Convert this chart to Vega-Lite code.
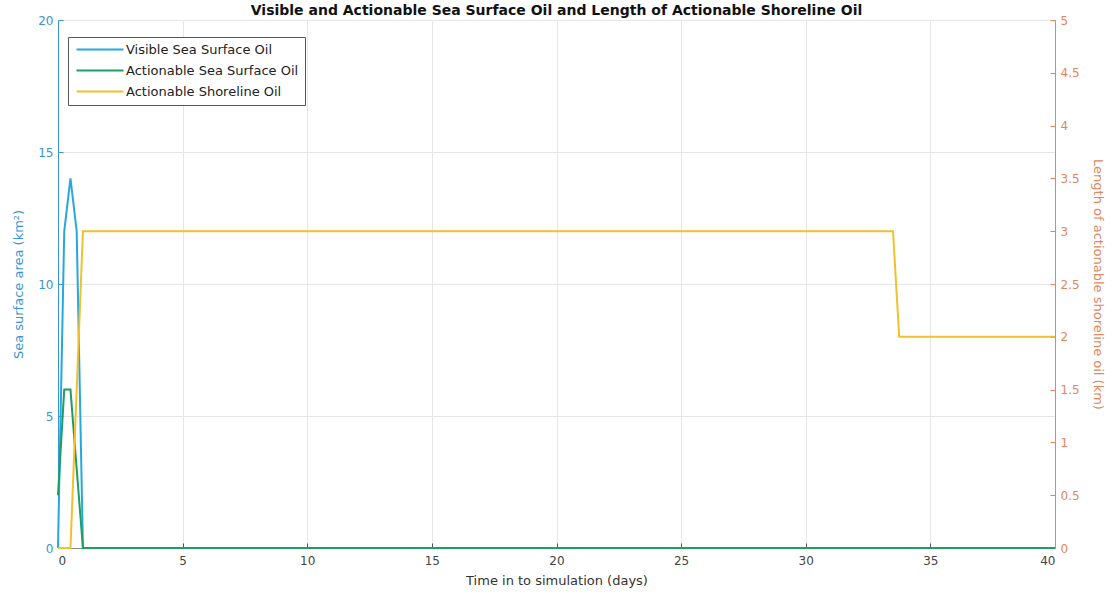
{
  "$schema": "https://vega.github.io/schema/vega-lite/v6.json",
  "autosize": {"type": "none"},
  "padding": {"left": 58, "top": 20, "right": 57, "bottom": 50},
  "width": 997,
  "height": 528,
  "background": "white",
  "config": {
    "font": "DejaVu Sans",
    "view": {"stroke": "#bbbbbb", "strokeWidth": 1},
    "axis": {"labelFont": "DejaVu Sans", "titleFont": "DejaVu Sans", "labelFontSize": 12, "titleFontSize": 13, "titleFontWeight": "normal"}
  },
  "title": {"text": "Visible and Actionable Sea Surface Oil and Length of Actionable Shoreline Oil", "fontSize": 14, "fontWeight": "bold", "color": "#111111", "offset": 5, "dy": 9, "font": "DejaVu Sans"},
  "data": {
    "values": [
      {"t": 0, "series": "Visible Sea Surface Oil", "v": 0},
      {"t": 0.25, "series": "Visible Sea Surface Oil", "v": 12},
      {"t": 0.5, "series": "Visible Sea Surface Oil", "v": 14},
      {"t": 0.75, "series": "Visible Sea Surface Oil", "v": 12},
      {"t": 1, "series": "Visible Sea Surface Oil", "v": 0},
      {"t": 40, "series": "Visible Sea Surface Oil", "v": 0},
      {"t": 0, "series": "Actionable Sea Surface Oil", "v": 2},
      {"t": 0.25, "series": "Actionable Sea Surface Oil", "v": 6},
      {"t": 0.5, "series": "Actionable Sea Surface Oil", "v": 6},
      {"t": 0.75, "series": "Actionable Sea Surface Oil", "v": 3},
      {"t": 1, "series": "Actionable Sea Surface Oil", "v": 0},
      {"t": 40, "series": "Actionable Sea Surface Oil", "v": 0},
      {"t": 0, "series": "Actionable Shoreline Oil", "v": 0},
      {"t": 0.5, "series": "Actionable Shoreline Oil", "v": 0},
      {"t": 1, "series": "Actionable Shoreline Oil", "v": 3},
      {"t": 33.5, "series": "Actionable Shoreline Oil", "v": 3},
      {"t": 33.75, "series": "Actionable Shoreline Oil", "v": 2},
      {"t": 40, "series": "Actionable Shoreline Oil", "v": 2}
    ]
  },
  "layer": [
    {
      "transform": [{"filter": {"field": "series", "oneOf": ["Visible Sea Surface Oil", "Actionable Sea Surface Oil"]}}],
      "mark": {"type": "line", "strokeWidth": 2},
      "encoding": {
        "x": {"field": "t", "type": "quantitative", "scale": {"domain": [0, 40], "nice": false},
          "axis": {"title": "Time in to simulation (days)", "values": [0,5,10,15,20,25,30,35,40], "grid": true, "gridColor": "#e6e6e6", "domainColor": "#888888", "tickColor": "#555555", "tickSize": -5, "labelPadding": 12, "labelColor": "#444444", "titleColor": "#333333", "titlePadding": 8}},
        "y": {"field": "v", "type": "quantitative", "scale": {"domain": [0, 20], "nice": false},
          "axis": {"title": "Sea surface area (km²)", "orient": "left", "values": [0,5,10,15,20], "grid": true, "gridColor": "#e6e6e6", "domainColor": "#3a93d2", "tickColor": "#3a93d2", "tickSize": -5, "labelPadding": 10, "labelColor": "#3a93d2", "titleColor": "#3a93d2", "titlePadding": 12}},
        "color": {"field": "series", "type": "nominal",
          "scale": {"domain": ["Visible Sea Surface Oil", "Actionable Sea Surface Oil", "Actionable Shoreline Oil"], "range": ["#26a7e0", "#1e9e62", "#f0c12a"]},
          "legend": {"title": null, "orient": "none", "legendX": 10, "legendY": 17, "symbolType": "M-0.8,0L8.6,0", "symbolStrokeWidth": 2, "symbolSize": 100, "labelFontSize": 13, "labelFont": "DejaVu Sans", "labelColor": "#222222", "labelLimit": 400, "strokeColor": "#555555", "fillColor": "white", "padding": 6, "rowPadding": 7, "labelOffset": 39}}
      }
    },
    {
      "transform": [{"filter": {"field": "series", "equal": "Actionable Shoreline Oil"}}],
      "mark": {"type": "line", "strokeWidth": 2},
      "encoding": {
        "x": {"field": "t", "type": "quantitative", "scale": {"domain": [0, 40], "nice": false}},
        "y": {"field": "v", "type": "quantitative", "scale": {"domain": [0, 5], "nice": false},
          "axis": {"title": "Length of actionable shoreline oil (km)", "orient": "right", "values": [0,0.5,1,1.5,2,2.5,3,3.5,4,4.5,5], "format": "~g", "grid": false, "domainColor": "#e2875c", "tickColor": "#e2875c", "tickSize": -5, "labelPadding": 10, "labelColor": "#e2875c", "titleColor": "#e2875c", "titlePadding": 11}},
        "color": {"field": "series", "type": "nominal"}
      }
    }
  ],
  "resolve": {"scale": {"y": "independent"}}
}
